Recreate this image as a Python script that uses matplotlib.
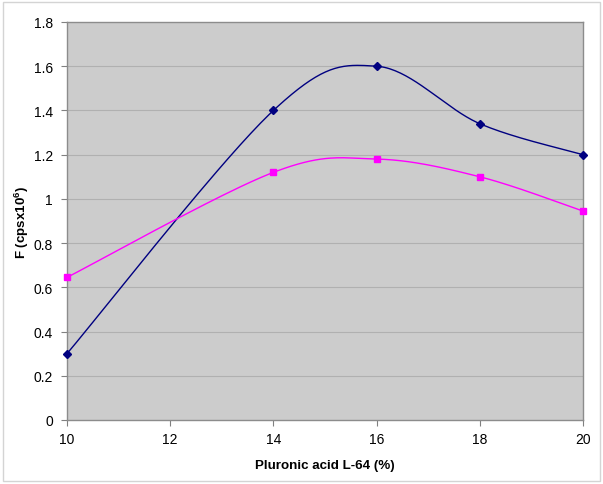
import numpy as np
import matplotlib
matplotlib.use("Agg")
import matplotlib.pyplot as plt
from matplotlib.patches import Rectangle

plt.rcParams['font.family'] = ['Liberation Sans', 'DejaVu Sans']
plt.rcParams['mathtext.fontset'] = 'custom'
plt.rcParams['mathtext.rm'] = 'Liberation Sans'
plt.rcParams['mathtext.bf'] = 'Liberation Sans:bold'

# Data
x_vals = [10, 14, 16, 18, 20]
series_navy = [0.30, 1.40, 1.60, 1.34, 1.20]
series_magenta = [0.645, 1.12, 1.18, 1.10, 0.945]
x_ticks = [10, 12, 14, 16, 18, 20]
y_ticks = [0, 0.2, 0.4, 0.6, 0.8, 1.0, 1.2, 1.4, 1.6, 1.8]
y_tick_labels = ['0', '0.2', '0.4', '0.6', '0.8', '1', '1.2', '1.4', '1.6', '1.8']

XMIN, XMAX, YMIN, YMAX = 10, 20, 0, 1.8
W_PX, H_PX = 516.0, 398.0


def excel_smooth(xs, ys, n=40):
    px = (np.asarray(xs, float) - XMIN) / (XMAX - XMIN) * W_PX
    py = (np.asarray(ys, float) - YMIN) / (YMAX - YMIN) * H_PX
    P = np.column_stack([px, py])
    m = len(P)
    out = []
    for i in range(m - 1):
        p0 = P[i]
        p3 = P[i + 1]
        prev = P[i - 1] if i > 0 else P[i]
        nxt = P[i + 2] if i + 2 < m else P[i + 1]
        c1 = p0 + (p3 - prev) / 6.0
        c2 = p3 - (nxt - p0) / 6.0
        t = np.linspace(0, 1, n)[:, None]
        seg = ((1 - t) ** 3) * p0 + 3 * ((1 - t) ** 2) * t * c1 + 3 * (1 - t) * t ** 2 * c2 + t ** 3 * p3
        if i > 0:
            seg = seg[1:]
        out.append(seg)
    out = np.vstack(out)
    sx = out[:, 0] / W_PX * (XMAX - XMIN) + XMIN
    sy = out[:, 1] / H_PX * (YMAX - YMIN) + YMIN
    return sx, sy


fig = plt.figure(figsize=(6.03, 4.85), dpi=100)
fig.patch.set_facecolor('white')
fig.patches.append(Rectangle((3 / 603, 3 / 485), 597 / 603, 479 / 485, transform=fig.transFigure,
                             fill=False, edgecolor='#d4d4d4', linewidth=1.0))

ax = fig.add_axes([67 / 603, 64 / 485, 516 / 603, 398 / 485])
ax.set_facecolor('#cccccc')
ax.set_xlim(XMIN, XMAX)
ax.set_ylim(YMIN, YMAX)

for yv in y_ticks[1:-1]:
    ax.axhline(yv, color='#b0b0b0', linewidth=0.8, zorder=1)

sx, sy = excel_smooth(x_vals, series_navy)
ax.plot(sx, sy, color='#000080', linewidth=1.0, zorder=3)
ax.plot(x_vals, series_navy, linestyle='none', marker='D', markersize=4.5, color='#000080', zorder=4,
        clip_on=False)

sx, sy = excel_smooth(x_vals, series_magenta)
ax.plot(sx, sy, color='#ff00ff', linewidth=1.0, zorder=3)
ax.plot(x_vals, series_magenta, linestyle='none', marker='s', markersize=4.5, color='#ff00ff', zorder=4,
        clip_on=False)

ax.set_xticks(x_ticks)
ax.set_xticklabels([str(v) for v in x_ticks])
ax.set_yticks(y_ticks)
ax.set_yticklabels(y_tick_labels)
ax.tick_params(axis='both', direction='out', length=4, width=0.8, color='#808080', labelsize=10,
               labelcolor='black')
ax.tick_params(axis='x', pad=5)
ax.tick_params(axis='y', pad=6)

for s in ax.spines.values():
    s.set_color('#8c8c8c')
    s.set_linewidth(1.0)

ax.set_xlabel('Pluronic acid L-64 (%)', fontsize=9.6, fontweight='bold', labelpad=9)
ax.set_ylabel(r'F (cpsx10$^{\mathbf{6}}$)', fontsize=9.6, fontweight='bold', labelpad=2)

fig.savefig('out.png', dpi=100)
